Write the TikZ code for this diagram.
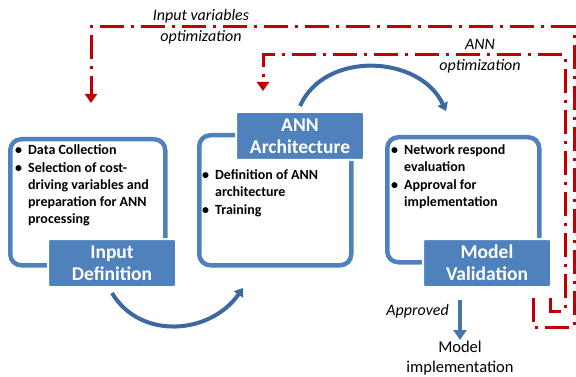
\documentclass[tikz,border=0pt]{standalone}
\usepackage{fontspec}
\setmainfont{Carlito}
\usetikzlibrary{arrows.meta}
\definecolor{boxblue}{HTML}{4F81BD}
\definecolor{arcblue}{HTML}{3C69A0}
\definecolor{optred}{HTML}{C00000}
\tikzset{
  outline/.style={draw=boxblue, line width=4.5pt, rounded corners=11pt, inner sep=0pt, anchor=north west},
  labelbox/.style={fill=boxblue, draw=white, line width=2pt, rounded corners=2pt, text=white, inner sep=0pt,
    font=\bfseries\fontsize{19.5}{22}\selectfont, align=center, anchor=north west,
    minimum width=128pt, minimum height=48pt},
  bullets/.style={font=\bfseries\fontsize{14}{17}\selectfont, anchor=north west, inner sep=0pt},
  italic/.style={font=\itshape\fontsize{16}{21}\selectfont, align=center, inner sep=0pt},
  optline/.style={draw=optred, line width=3pt, dash pattern=on 24pt off 7pt on 3pt off 7pt,
    -{Triangle[width=12pt,length=9pt]}},
  arcarrow/.style={draw=arcblue, line width=4pt, -{Triangle[width=11pt,length=8pt]}},
}
\newcommand{\bl}{\textbullet}
\begin{document}
\begin{tikzpicture}[x=1pt,y=-1pt]
\useasboundingbox (0,0) rectangle (576,377);

% outlines
\node[outline, minimum width=155pt, minimum height=126pt] (inout) at (8,137) {};
\node[outline, minimum width=152pt, minimum height=130pt] (annout) at (197,133) {};
\node[outline, minimum width=152pt, minimum height=125pt] (mvout) at (385,135) {};

% labels
\node[labelbox] (inlab) at (47,238) {Input\\Definition};
\node[labelbox] (annlab) at (235,111) {ANN\\Architecture};
\node[labelbox] (mvlab) at (422,238) {Model\\Validation};

% bullet texts
\node[bullets] (inbul) at (15,142) {\begin{tabular}{@{}l@{\hspace{6pt}}l@{}}
\bl & Data Collection\\[1pt]
\bl & Selection of cost-\\
 & driving variables and\\
 & preparation for ANN\\
 & processing
\end{tabular}};
\node[bullets] (annbul) at (202,167) {\begin{tabular}{@{}l@{\hspace{6pt}}l@{}}
\bl & Definition of ANN\\
 & architecture\\[1pt]
\bl & Training
\end{tabular}};
\node[bullets] (mvbul) at (391,142) {\begin{tabular}{@{}l@{\hspace{6pt}}l@{}}
\bl & Network respond\\
 & evaluation\\[1pt]
\bl & Approval for\\
 & implementation
\end{tabular}};

% blue arcs
\coordinate (a1s) at (112,293);
\coordinate (a1e) at (243,288);
\draw[arcarrow] (a1s) .. controls (140,340) and (210,335) .. (a1e);
\coordinate (a2s) at (300,106);
\coordinate (a2e) at (446,111);
\draw[arcarrow] (a2s) .. controls (325,50) and (420,55) .. (a2e);

% approved arrow
\coordinate (aps) at (460,300);
\node[font=\fontsize{16.5}{20}\selectfont, align=center, anchor=north, inner sep=0pt] (impl) at (460,341) {Model\\implementation};
\draw[draw=boxblue!90!black, line width=4.5pt, -{Triangle[width=13pt,length=10pt]}] (aps) -- ([yshift=1pt]impl.north);
\node[italic, anchor=east] (appr) at (449,311) {Approved};

% red optimisation loops
\coordinate (o1s) at (533,298);
\coordinate (o1e) at (91,103);
\draw[optline] (o1s) -- (533,327) -- (574,327) -- (574,27) -- (91,27) -- (o1e);
\coordinate (o2s) at (550,298);
\coordinate (o2e) at (263,91);
\draw[optline] (o2s) -- (550,311) -- (565,311) -- (565,55) -- (263,55) -- (o2e);

\node[italic] (ivo) at (201,27) {Input variables\\optimization};
\node[italic] (anno) at (480,56) {ANN\\optimization};
\end{tikzpicture}
\end{document}
